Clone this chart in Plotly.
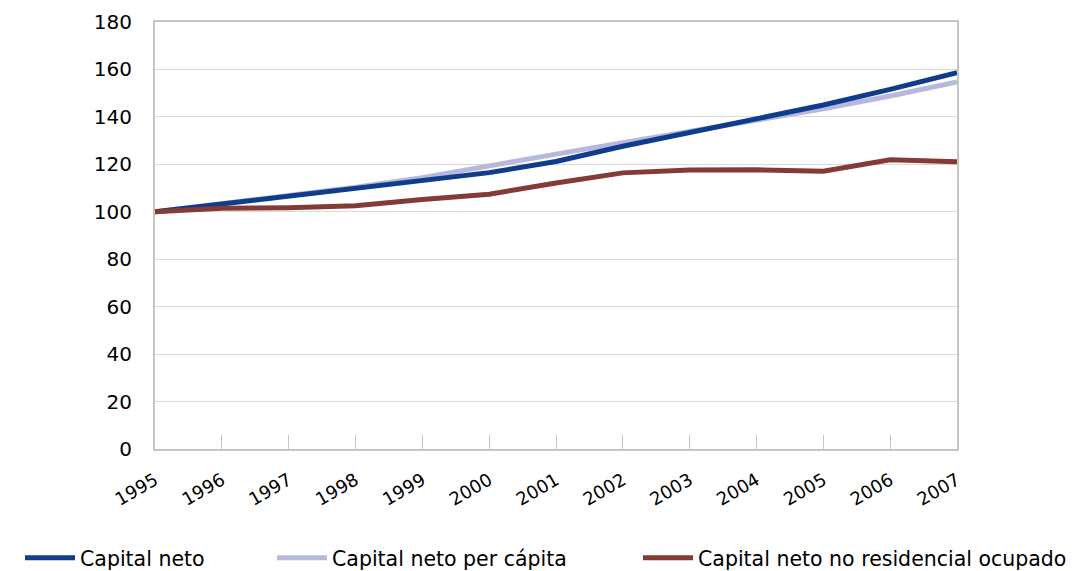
import plotly.graph_objects as go

years = ["1995", "1996", "1997", "1998", "1999", "2000", "2001", "2002", "2003", "2004", "2005", "2006", "2007"]
capital_neto = [100.0, 103.2, 106.4, 109.8, 113.2, 116.5, 121.2, 127.6, 133.4, 139.0, 145.0, 151.6, 158.6]
capital_pc = [100.0, 103.3, 106.7, 110.3, 114.4, 119.5, 124.3, 129.1, 133.8, 138.2, 143.4, 148.8, 154.7]
capital_nr = [100.0, 101.5, 101.7, 102.5, 105.2, 107.4, 112.1, 116.4, 117.6, 117.7, 117.1, 121.9, 121.1]

series_names = ["Capital neto", "Capital neto per cápita", "Capital neto no residencial ocupado"]
end_labels = ["158,6", "154,7", "121,1"]
colors = ["#0f3d8b", "#b7b8dd", "#843b36"]
font_family = "Tahoma, 'DejaVu Sans', Verdana, sans-serif"

W, H = 1067, 563  # page body has an 8px margin

fig = go.Figure()
# light series drawn first so the dark blue sits on top
draw_order = [1, 0, 2]
all_vals = [capital_neto, capital_pc, capital_nr]
legend_ids = ["legend", "legend2", "legend3"]
for i in draw_order:
    fig.add_trace(go.Scatter(x=years, y=all_vals[i], mode="lines", name=series_names[i],
                             line=dict(color=colors[i], width=5), legend=legend_ids[i]))

label_y = [capital_neto[-1] + 4.4, capital_pc[-1] - 0.6, capital_nr[-1]]
for txt, yv in zip(end_labels, label_y):
    fig.add_annotation(x=years[-1], y=yv, text=txt, showarrow=False, xanchor="left",
                       xshift=18, font=dict(size=18, color="#000000", family=font_family))

legend_x_px = [12, 264, 630]
leg_common = dict(orientation="h", xref="container", yref="container", xanchor="left",
                  y=1 - 550 / H, yanchor="middle", font=dict(size=20.5), itemwidth=50,
                  bgcolor="rgba(0,0,0,0)")
fig.update_layout(
    width=W, height=H,
    margin=dict(l=147, r=118, t=14, b=122, autoexpand=False),
    paper_bgcolor="white", plot_bgcolor="white",
    font=dict(family=font_family, color="#000000"),
    showlegend=True,
    legend=dict(x=legend_x_px[0] / W, **leg_common),
    legend2=dict(x=legend_x_px[1] / W, **leg_common),
    legend3=dict(x=legend_x_px[2] / W, **leg_common),
)
fig.update_xaxes(type="category", range=[0, 12], showgrid=False, automargin=False,
                 showline=True, linecolor="#c6c6c6", linewidth=2, mirror=True,
                 ticks="inside", ticklen=14, tickcolor="#c6c6c6", tickwidth=1,
                 tickangle=-30, tickfont=dict(size=18), ticklabelstandoff=12, zeroline=False)
fig.update_yaxes(range=[0, 180], dtick=20, showgrid=True, gridcolor="#d9d9d9", gridwidth=1,
                 automargin=False,
                 showline=True, linecolor="#c6c6c6", linewidth=2, mirror=True,
                 ticks="", tickfont=dict(size=20), ticklabelstandoff=17, zeroline=False)

fig.write_html("out.html")
